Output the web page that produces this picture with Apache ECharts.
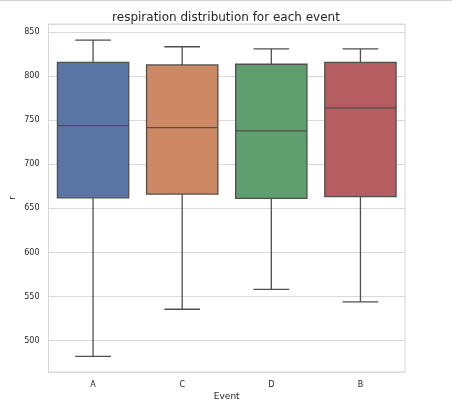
<!DOCTYPE html>
<html>
<head>
<meta charset="utf-8">
<script src="https://cdn.jsdelivr.net/npm/echarts@6/dist/echarts.min.js"></script>
<style>
  html, body { margin: 0; padding: 0; background: #fff; }
  #chart { width: 452px; height: 411px; }
</style>
</head>
<body>
<div id="chart"></div>
<script>
// 事件类别
var events = ['A', 'C', 'D', 'B'];
// 箱线图数值：下须, 下四分位, 中位数, 上四分位, 上须
var lowWhisker = [482, 535.5, 558, 544];
var q1Values = [662, 666.3, 661.4, 663.3];
var medians = [744, 741.6, 738, 764];
var q3Values = [815.8, 812.8, 813.6, 815.8];
var highWhisker = [841, 833.5, 831, 831];
var boxColors = ['#5875a4', '#cc8963', '#5f9e6e', '#b55d60'];

var edge = '#4f4f4f';
var chart = echarts.init(document.getElementById('chart'), null, { renderer: 'canvas' });

var seriesData = [];
for (var i = 0; i < events.length; i++) {
  seriesData.push([i, lowWhisker[i], q1Values[i], medians[i], q3Values[i], highWhisker[i]]);
}

function renderBox(params, api) {
  var idx = api.value(0);
  var band = api.size([1, 0])[0];
  var boxW = band * 0.8;
  var capW = boxW * 0.5;
  var low = api.coord([idx, api.value(1)]);
  var q1 = api.coord([idx, api.value(2)]);
  var med = api.coord([idx, api.value(3)]);
  var q3 = api.coord([idx, api.value(4)]);
  var high = api.coord([idx, api.value(5)]);
  var cx = low[0];
  var lineStyle = { stroke: edge, lineWidth: 1.3, fill: null };
  return {
    type: 'group',
    children: [
      { type: 'line', shape: { x1: cx, y1: q3[1], x2: cx, y2: high[1] }, style: lineStyle },
      { type: 'line', shape: { x1: cx, y1: q1[1], x2: cx, y2: low[1] }, style: lineStyle },
      { type: 'line', shape: { x1: cx - capW / 2, y1: high[1], x2: cx + capW / 2, y2: high[1] }, style: lineStyle },
      { type: 'line', shape: { x1: cx - capW / 2, y1: low[1], x2: cx + capW / 2, y2: low[1] }, style: lineStyle },
      { type: 'rect', shape: { x: cx - boxW / 2, y: q3[1], width: boxW, height: q1[1] - q3[1] },
        style: { fill: boxColors[idx], stroke: edge, lineWidth: 1.3 } },
      { type: 'line', shape: { x1: cx - boxW / 2, y1: med[1], x2: cx + boxW / 2, y2: med[1] }, style: lineStyle }
    ]
  };
}

chart.setOption({
  backgroundColor: '#fff',
  animation: false,
  title: {
    text: 'respiration distribution for each event',
    left: 'center', top: 7,
    textStyle: { fontFamily: 'DejaVu Sans', fontSize: 12, fontWeight: 'normal', color: '#262626' }
  },
  graphic: [
    { type: 'line', shape: { x1: 0, y1: 0.5, x2: 452, y2: 0.5 }, style: { stroke: '#cfcfcf', lineWidth: 1 } }
  ],
  grid: {
    left: 48.5, right: 47, top: 24, bottom: 39,
    containLabel: false, outerBoundsMode: 'none',
    show: true, borderColor: '#d6d6d6', borderWidth: 1
  },
  xAxis: {
    type: 'category',
    data: events,
    name: 'Event',
    nameLocation: 'middle',
    nameGap: 20,
    nameMoveOverlap: false,
    nameTextStyle: { fontFamily: 'DejaVu Sans', fontSize: 9, color: '#262626' },
    axisLine: { show: false },
    axisTick: { show: false },
    axisLabel: { fontFamily: 'DejaVu Sans', fontSize: 8, color: '#262626', margin: 9 },
    splitLine: { show: false }
  },
  yAxis: {
    type: 'value',
    min: 464.3,
    max: 859.3,
    splitNumber: 8,
    name: 'r',
    nameLocation: 'middle',
    nameGap: 31,
    nameMoveOverlap: false,
    nameTextStyle: { fontFamily: 'DejaVu Sans', fontSize: 9, color: '#262626' },
    axisLine: { show: false },
    axisTick: { show: false },
    axisLabel: {
      fontFamily: 'DejaVu Sans', fontSize: 8, color: '#262626', margin: 9,
      formatter: function (v) { return Math.abs(v % 50) < 1e-6 ? String(v) : ''; }
    },
    splitLine: { lineStyle: { color: '#d9d9d9', width: 1 } }
  },
  series: [{
    type: 'custom',
    renderItem: renderBox,
    data: seriesData,
    encode: { x: 0, y: [1, 2, 3, 4, 5] },
    z: 3
  }]
});
</script>
</body>
</html>
